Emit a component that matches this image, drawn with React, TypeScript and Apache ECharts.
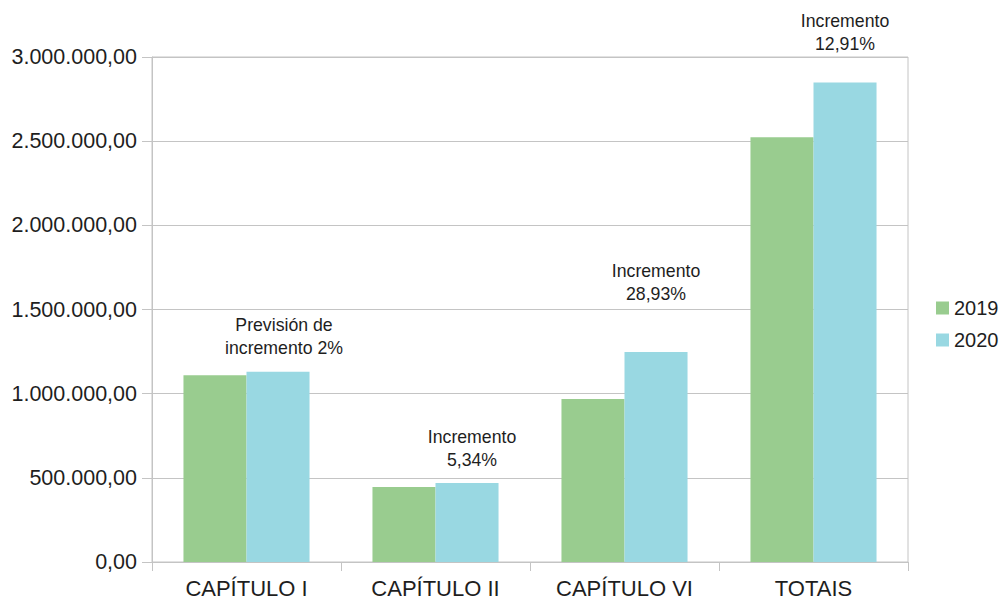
import React, { useEffect, useRef } from "react";
import * as echarts from "echarts";

const categories = ["CAPÍTULO I", "CAPÍTULO II", "CAPÍTULO VI", "TOTAIS"];
const values2019 = [1110000, 445000, 968000, 2523000];
const values2020 = [1130000, 469000, 1248000, 2849000];
const annotations = [
  "Previsión de\nincremento 2%",
  "Incremento\n5,34%",
  "Incremento\n28,93%",
  "Incremento\n12,91%",
];
const yTicks = { min: 0, max: 3000000, interval: 500000 };

const annotationLayout = [
  { distance: 12, dx: 6 },
  { distance: 12, dx: 5 },
  { distance: 46, dx: 0 },
  { distance: 27, dx: 0 },
];

function formatEs(v: number): string {
  const intPart = Math.round(v).toString().replace(/\B(?=(\d{3})+(?!\d))/g, ".");
  return intPart + ",00";
}

const FONT = "'Liberation Sans', Arial, sans-serif";
const TEXT = "#1e1e1e";
const LINE = "#c4c4c4";

export default function App() {
  const ref = useRef<HTMLDivElement>(null);
  useEffect(() => {
    if (!ref.current) return;
    const chart = echarts.init(ref.current, null, { renderer: "svg" });
    chart.setOption({
      animation: false,
      backgroundColor: "#ffffff",
      textStyle: { fontFamily: FONT },
      grid: {
        left: 152,
        right: 96,
        top: 57,
        bottom: 37,
        show: true,
        borderColor: LINE,
        borderWidth: 1,
        containLabel: false,
      },
      legend: {
        orient: "vertical",
        left: 931,
        top: 293,
        icon: "rect",
        itemWidth: 13,
        itemHeight: 13,
        itemGap: 12,
        textStyle: { fontSize: 20, color: TEXT, fontFamily: FONT },
        data: ["2019", "2020"],
      },
      xAxis: {
        type: "category",
        data: categories,
        axisLine: { show: true, lineStyle: { color: LINE, width: 1 } },
        axisTick: { show: true, length: 9, alignWithLabel: false, lineStyle: { color: LINE } },
        axisLabel: { fontSize: 22, color: TEXT, margin: 15, fontFamily: FONT },
        splitLine: { show: false },
      },
      yAxis: {
        type: "value",
        min: yTicks.min,
        max: yTicks.max,
        interval: yTicks.interval,
        axisLine: { show: true, lineStyle: { color: LINE, width: 1 } },
        axisTick: { show: true, length: 10, lineStyle: { color: LINE } },
        axisLabel: {
          fontSize: 21.5,
          color: TEXT,
          margin: 15,
          fontFamily: FONT,
          formatter: (v: number) => formatEs(v),
        },
        splitLine: { show: true, lineStyle: { color: LINE, width: 1 } },
      },
      series: [
        {
          name: "2019",
          type: "bar",
          data: values2019,
          barGap: "0%",
          barCategoryGap: "33.3%",
          itemStyle: { color: "#99cc8f" },
        },
        {
          name: "2020",
          type: "bar",
          barGap: "0%",
          barCategoryGap: "33.3%",
          itemStyle: { color: "#99d8e2" },
          data: values2020.map((v, i) => ({
            value: v,
            label: {
              show: true,
              position: "top",
              distance: annotationLayout[i].distance,
              offset: [annotationLayout[i].dx, 0],
              formatter: annotations[i],
              fontSize: 17.7,
              lineHeight: 23,
              color: TEXT,
              fontFamily: FONT,
              align: "center",
            },
          })),
        },
      ],
    });
    return () => chart.dispose();
  }, []);
  return <div ref={ref} style={{ width: 1004, height: 599, position: "absolute", left: 0, top: 0 }} />;
}
